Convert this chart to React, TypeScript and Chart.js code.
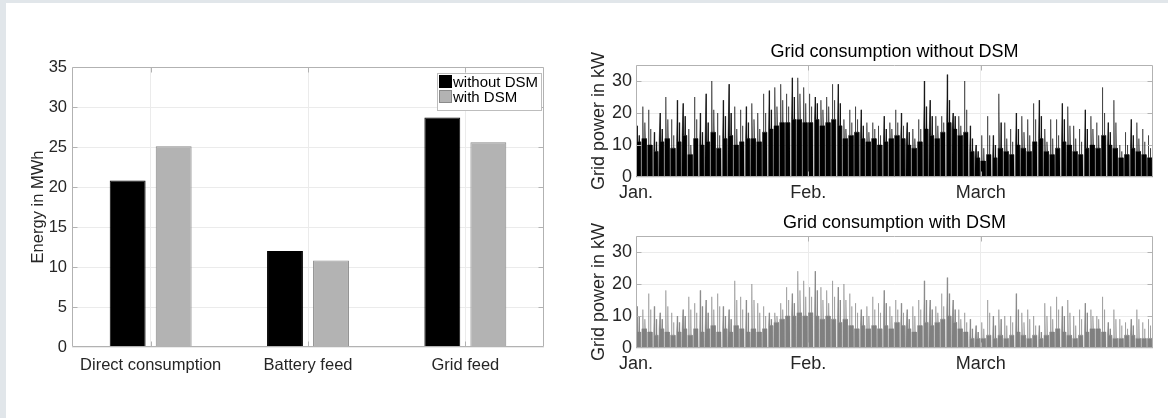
import React, { useEffect, useRef } from "react";
import { Chart, registerables } from "chart.js";

Chart.register(...registerables);

// ---------- Left chart data ----------
const barCategories = ["Direct consumption", "Battery feed", "Grid feed"];
const energyWithoutDSM = [20.8, 12.0, 28.7];
const energyWithDSM = [25.1, 10.8, 25.6];
const seriesLabels = ["without DSM", "with DSM"];

// ---------- Right charts: ticks ----------
const monthTickDays = [0, 30, 60];
const monthTickLabels = ["Jan.", "Feb.", "March"];
const powerTicks = [0, 10, 20, 30];

// ---------- Right charts: per day, highest spike / second spike / night base level (kW) ----------
const peakWithoutDSM = [
  16, 22, 21, 14, 20, 25, 18, 24, 23, 15,
  25, 20, 26, 30, 20, 24, 29, 22, 21, 22,
  23, 20, 26, 27, 28, 29, 26, 31, 31, 28,
  26, 25, 24, 25, 29, 29, 18, 21, 22, 21,
  17, 17, 16, 19, 17, 21, 20, 17, 15, 18,
  30, 24, 19, 19, 32, 20, 19, 30, 16, 10,
  13, 19, 13, 26, 17, 15, 20, 19, 18, 23,
  24, 15, 18, 18, 23, 22, 16, 15, 21, 19,
  17, 28, 17, 24, 10, 14, 18, 17, 15, 13,
];
const secondWithoutDSM = [
  13, 17, 15, 11, 15, 18, 13, 17, 19, 10,
  18, 14, 17, 21, 13, 19, 20, 15, 16, 17,
  18, 15, 20, 21, 22, 24, 22, 25, 26, 23,
  22, 23, 21, 22, 24, 23, 15, 17, 18, 16,
  14, 15, 13, 15, 15, 17, 16, 14, 12, 15,
  22, 19, 16, 17, 24, 19, 16, 21, 12, 8,
  9, 13, 10, 17, 12, 11, 15, 14, 13, 18,
  19, 11, 12, 13, 18, 16, 12, 11, 15, 15,
  13, 20, 14, 17, 8, 10, 13, 12, 11, 9,
];
const baseWithoutDSM = [
  11, 12, 10, 8, 11, 12, 9, 11, 13, 7,
  12, 10, 11, 14, 9, 12, 13, 10, 11, 12,
  12, 11, 14, 15, 16, 17, 17, 18, 18, 17,
  17, 18, 16, 17, 18, 16, 12, 13, 14, 12,
  11, 12, 10, 11, 12, 13, 12, 10, 9, 11,
  15, 13, 12, 14, 17, 15, 13, 14, 8, 6,
  5, 7, 6, 9, 8, 7, 10, 9, 8, 11,
  12, 8, 7, 9, 11, 10, 8, 7, 9, 10,
  9, 13, 10, 9, 6, 7, 9, 8, 7, 6,
];
const peakWithDSM = [
  13, 12, 17, 13, 11, 18, 11, 10, 12, 16,
  14, 18, 15, 16, 17, 13, 12, 21, 16, 15,
  20, 14, 13, 11, 11, 14, 19, 17, 24, 21,
  19, 24, 19, 18, 21, 19, 20, 17, 14, 12,
  13, 16, 14, 18, 13, 15, 14, 12, 13, 15,
  21, 15, 13, 17, 22, 15, 12, 11, 9, 7,
  8, 15, 10, 12, 10, 10, 17, 11, 12, 10,
  7, 14, 13, 16, 13, 15, 10, 12, 14, 12,
  10, 16, 8, 12, 9, 8, 9, 12, 8, 9,
];
const secondWithDSM = [
  10, 9, 12, 9, 9, 13, 8, 8, 10, 12,
  11, 13, 11, 12, 13, 10, 9, 15, 12, 11,
  15, 11, 10, 9, 10, 12, 15, 14, 18, 16,
  16, 18, 15, 14, 16, 15, 15, 13, 11, 10,
  10, 12, 11, 14, 10, 12, 11, 9, 10, 12,
  15, 12, 11, 13, 17, 12, 9, 8, 6, 5,
  6, 11, 7, 9, 7, 8, 12, 8, 9, 7,
  5, 10, 9, 12, 10, 11, 7, 9, 11, 10,
  9, 12, 6, 9, 7, 6, 7, 9, 6, 7,
];
const baseWithDSM = [
  5, 6, 5, 4, 6, 5, 4, 5, 6, 4,
  6, 5, 6, 7, 5, 6, 5, 7, 6, 5,
  6, 5, 6, 7, 8, 9, 10, 10, 11, 10,
  11, 10, 9, 10, 9, 8, 9, 7, 6, 7,
  6, 7, 6, 7, 6, 8, 7, 6, 5, 7,
  8, 7, 8, 9, 10, 8, 6, 5, 3, 3,
  3, 4, 3, 4, 3, 4, 5, 4, 3, 4,
  3, 4, 5, 6, 5, 4, 3, 4, 5, 6,
  6, 5, 4, 3, 3, 4, 4, 3, 3, 3,
];

const FONT = "'Liberation Sans', Arial, sans-serif";
const TEXT = "#262626";
const GRID = "#ebebeb";
const FRAME = "#b2b2b2";

// Each day: night block at its base level with two narrow spikes, then a daytime gap at zero.
function dailyProfile(peaks: number[], seconds: number[], bases: number[]) {
  const pts: { x: number; y: number }[] = [];
  peaks.forEach((p, d) => {
    const b = bases[d];
    const s = seconds[d];
    pts.push(
      { x: d, y: 0 },
      { x: d + 0.03, y: b },
      { x: d + 0.13, y: b },
      { x: d + 0.19, y: p },
      { x: d + 0.25, y: b },
      { x: d + 0.48, y: b },
      { x: d + 0.54, y: s },
      { x: d + 0.6, y: b },
      { x: d + 0.79, y: b },
      { x: d + 0.82, y: 0 }
    );
  });
  pts.push({ x: peaks.length, y: 0 });
  return pts;
}

const framePlugin = {
  id: "frame",
  afterDatasetsDraw(chart: any, _args: any, opts: any) {
    const { ctx, chartArea: a } = chart;
    const xs = chart.scales.x;
    const ys = chart.scales.y;
    const len = 5;
    ctx.save();
    ctx.strokeStyle = opts.color || FRAME;
    ctx.lineWidth = 1;
    const L = a.left + 0.5, R = a.right - 0.5, T = a.top + 0.5, B = a.bottom - 0.5;
    ctx.beginPath();
    ctx.rect(L, T, R - L, B - T);
    (opts.xTicks || []).forEach((v: number) => {
      const px = Math.round(xs.getPixelForValue(v)) + 0.5;
      ctx.moveTo(px, T);
      ctx.lineTo(px, T + len);
      ctx.moveTo(px, B);
      ctx.lineTo(px, B - len);
    });
    (opts.yTicks || []).forEach((v: number) => {
      const py = Math.round(ys.getPixelForValue(v)) + 0.5;
      ctx.moveTo(L, py);
      ctx.lineTo(L + len, py);
      ctx.moveTo(R, py);
      ctx.lineTo(R - len, py);
    });
    ctx.stroke();
    if (opts.title) {
      ctx.fillStyle = "#000";
      ctx.font = `18px ${FONT}`;
      ctx.textAlign = "center";
      ctx.textBaseline = "middle";
      ctx.fillText(opts.title, (a.left + a.right) / 2, a.top - 12.5);
    }
    ctx.restore();
  },
};

const boxLegendPlugin = {
  id: "boxLegend",
  afterDraw(chart: any) {
    const { ctx } = chart;
    const x0 = 437, y0 = 73, w = 105, h = 38;
    ctx.save();
    ctx.fillStyle = "#fff";
    ctx.fillRect(x0, y0, w, h);
    ctx.strokeStyle = "#bdbdbd";
    ctx.lineWidth = 1;
    ctx.strokeRect(x0 + 0.5, y0 + 0.5, w - 1, h - 1);
    ctx.font = `15px ${FONT}`;
    ctx.textBaseline = "middle";
    ctx.textAlign = "left";
    chart.data.datasets.forEach((ds: any, i: number) => {
      const sy = 75 + i * 15;
      ctx.fillStyle = ds.backgroundColor;
      ctx.fillRect(439, sy, 13, 13);
      ctx.strokeStyle = ds.borderColor;
      ctx.strokeRect(439.5, sy + 0.5, 12, 12);
      ctx.fillStyle = "#000";
      ctx.fillText(ds.label, 453, sy + 8);
    });
    ctx.restore();
  },
};

function barConfig(): any {
  return {
    type: "bar",
    data: {
      labels: barCategories,
      datasets: [
        {
          label: seriesLabels[0],
          data: energyWithoutDSM,
          backgroundColor: "#000000",
          borderColor: "#000000",
          borderWidth: 1,
          categoryPercentage: 0.585,
          barPercentage: 0.78,
        },
        {
          label: seriesLabels[1],
          data: energyWithDSM,
          backgroundColor: "#b3b3b3",
          borderColor: "#8a8a8a",
          borderWidth: 1,
          categoryPercentage: 0.585,
          barPercentage: 0.78,
        },
      ],
    },
    options: {
      responsive: false,
      animation: false,
      layout: { padding: { top: 67, right: 16, left: 0, bottom: 0 } },
      plugins: {
        legend: { display: false },
        tooltip: { enabled: false },
        frame: { xTicks: [0, 1, 2], yTicks: [5, 10, 15, 20, 25, 30] },
      },
      scales: {
        x: {
          offset: true,
          grid: { color: GRID, offset: false, drawTicks: false },
          border: { display: false },
          ticks: { color: TEXT, font: { family: FONT, size: 16.5 }, padding: 9, maxRotation: 0 },
          afterFit: (s: any) => {
            s.height = 71;
          },
        },
        y: {
          min: 0,
          max: 35,
          ticks: { stepSize: 5, color: TEXT, font: { family: FONT, size: 16.5 }, padding: 5 },
          grid: { color: GRID, drawTicks: false },
          border: { display: false },
          title: {
            display: true,
            text: "Energy in MWh",
            color: TEXT,
            font: { family: FONT, size: 16.5 },
            padding: { top: 29, bottom: 0 },
          },
          afterFit: (s: any) => {
            s.width = 72;
          },
        },
      },
    },
    plugins: [framePlugin, boxLegendPlugin],
  };
}

function powerConfig(
  title: string,
  peaks: number[],
  seconds: number[],
  bases: number[],
  color: string,
  edge: string,
  padTop: number,
  xHeight: number
): any {
  return {
    type: "line",
    data: {
      datasets: [
        {
          data: dailyProfile(peaks, seconds, bases),
          borderColor: edge,
          borderWidth: 1,
          backgroundColor: color,
          fill: "origin",
          pointRadius: 0,
          tension: 0,
        },
      ],
    },
    options: {
      responsive: false,
      animation: false,
      layout: { padding: { top: padTop, right: 15, left: 0, bottom: 0 } },
      plugins: {
        legend: { display: false },
        tooltip: { enabled: false },
        frame: { xTicks: [30, 60], yTicks: [10, 20, 30], title },
      },
      scales: {
        x: {
          type: "linear",
          min: 0,
          max: 90,
          afterBuildTicks: (s: any) => {
            s.ticks = monthTickDays.map((v) => ({ value: v }));
          },
          ticks: {
            autoSkip: false,
            maxRotation: 0,
            color: TEXT,
            font: { family: FONT, size: 18 },
            padding: 5,
            callback: (v: any) => monthTickLabels[monthTickDays.indexOf(Number(v))],
          },
          grid: { color: GRID, drawTicks: false },
          border: { display: false },
          afterFit: (s: any) => {
            s.height = xHeight;
          },
        },
        y: {
          min: 0,
          max: 35,
          afterBuildTicks: (s: any) => {
            s.ticks = powerTicks.map((v) => ({ value: v }));
          },
          ticks: { color: TEXT, font: { family: FONT, size: 18 }, padding: 4 },
          grid: { color: GRID, drawTicks: false },
          border: { display: false },
          title: {
            display: true,
            text: "Grid power in kW",
            color: TEXT,
            font: { family: FONT, size: 18 },
            padding: { top: 28, bottom: 0 },
          },
          afterFit: (s: any) => {
            s.width = 76;
          },
        },
      },
    },
    plugins: [framePlugin],
  };
}

function ChartCanvas(props: { left: number; top: number; width: number; height: number; make: () => any }) {
  const ref = useRef<HTMLCanvasElement>(null);
  useEffect(() => {
    const chart = new Chart(ref.current as HTMLCanvasElement, props.make());
    return () => chart.destroy();
  }, []);
  return (
    <canvas
      ref={ref}
      width={props.width}
      height={props.height}
      style={{ position: "absolute", left: props.left, top: props.top, width: props.width, height: props.height }}
    />
  );
}

export default function App() {
  return (
    <div style={{ position: "absolute", left: 0, top: 0, width: 1168, height: 418, background: "#e1e6ea", overflow: "hidden" }}>
      <div style={{ position: "absolute", left: 6, top: 3, right: 0, bottom: 0, background: "#ffffff" }} />
      <ChartCanvas left={0} top={0} width={560} height={418} make={barConfig} />
      <ChartCanvas
        left={560}
        top={0}
        width={608}
        height={200}
        make={() =>
          powerConfig("Grid consumption without DSM", peakWithoutDSM, secondWithoutDSM, baseWithoutDSM, "#000000", "rgba(0,0,0,0.5)", 65, 23)
        }
      />
      <ChartCanvas
        left={560}
        top={200}
        width={608}
        height={200}
        make={() =>
          powerConfig("Grid consumption with DSM", peakWithDSM, secondWithDSM, baseWithDSM, "#808080", "rgba(128,128,128,0.5)", 36, 52)
        }
      />
    </div>
  );
}
